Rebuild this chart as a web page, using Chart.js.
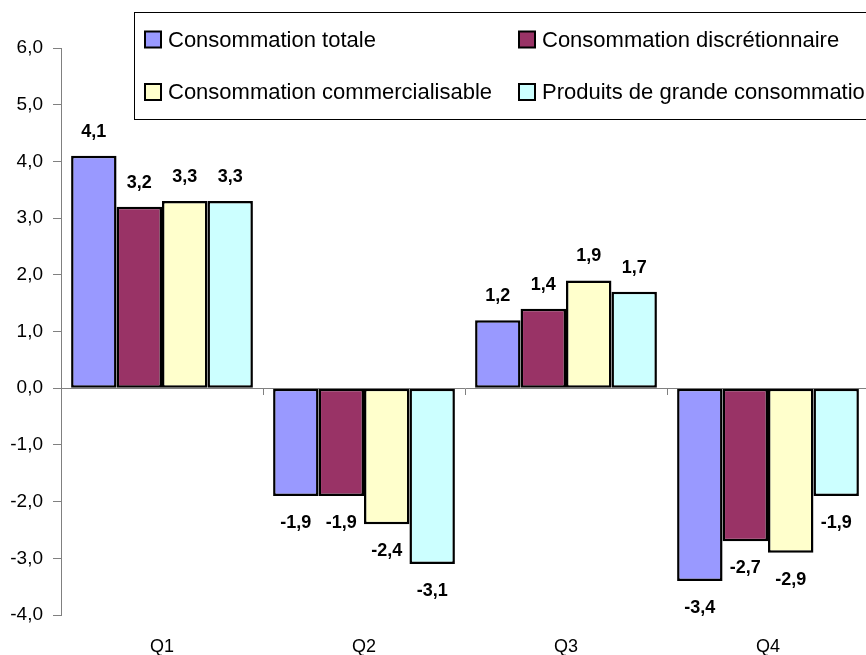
<!DOCTYPE html>
<html>
<head>
<meta charset="utf-8">
<script src="https://cdn.jsdelivr.net/npm/chart.js@4.4.1/dist/chart.umd.min.js"></script>
<style>
  html, body { margin: 0; padding: 0; background: #fff; overflow: hidden; }
  #clip { width: 866px; height: 655px; overflow: hidden; position: relative; }
  #wrap { width: 870px; height: 655px; position: absolute; left: 0; top: 0; }
</style>
</head>
<body>
<div id="clip"><div id="wrap"><canvas id="c"></canvas></div></div>
<script>
// Categories and series
const quarters = ['Q1', 'Q2', 'Q3', 'Q4'];
const seriesNames = [
  'Consommation totale',
  'Consommation discrétionnaire',
  'Consommation commercialisable',
  'Produits de grande consommation'
];
const totale           = [4.1, -1.9, 1.2, -3.4];
const discretionnaire  = [3.2, -1.9, 1.4, -2.7];
const commercialisable = [3.3, -2.4, 1.9, -2.9];
const grandeConso      = [3.3, -3.1, 1.7, -1.9];
const seriesColors = ['#9999FF', '#993366', '#FFFFCC', '#CCFFFF'];
const yMin = -4, yMax = 6, yStep = 1;

const FONT = "'Liberation Sans', Arial, Helvetica, sans-serif";
const frNum = v => v.toFixed(1).replace('.', ',');

// Value labels above positive bars and below negative bars
const valueLabels = {
  id: 'valueLabels',
  afterDatasetsDraw(chart) {
    const ctx = chart.ctx;
    ctx.save();
    ctx.font = 'bold 18px ' + FONT;
    ctx.fillStyle = '#000';
    ctx.textAlign = 'center';
    ctx.textBaseline = 'middle';
    chart.data.datasets.forEach((ds, i) => {
      chart.getDatasetMeta(i).data.forEach((bar, j) => {
        const v = ds.data[j];
        const y = v >= 0 ? bar.y - 24 : bar.y + 27;
        ctx.fillText(frNum(v), bar.x, y);
      });
    });
    ctx.restore();
  }
};

// Two-column framed legend in the upper part of the chart
const boxLegend = {
  id: 'boxLegend',
  afterDraw(chart) {
    const ctx = chart.ctx;
    const left = 134.5, top = 12.5, bottom = 119.5, right = 900;
    ctx.save();
    ctx.fillStyle = '#fff';
    ctx.fillRect(left, top, right - left, bottom - top);
    ctx.strokeStyle = '#000';
    ctx.lineWidth = 1;
    ctx.strokeRect(left, top, right - left, bottom - top);
    const cols = [145, 519];
    const rows = [39.5, 92];
    ctx.font = '22px ' + FONT;
    ctx.textBaseline = 'middle';
    ctx.textAlign = 'left';
    chart.data.datasets.forEach((ds, i) => {
      const x = cols[i % 2], y = rows[Math.floor(i / 2)];
      ctx.fillStyle = ds.backgroundColor;
      ctx.fillRect(x, y - 8, 16, 16);
      ctx.lineWidth = 2;
      ctx.strokeStyle = '#000';
      ctx.strokeRect(x, y - 8, 16, 16);
      ctx.fillStyle = '#000';
      ctx.fillText(ds.label, x + 23, y + 1);
    });
    ctx.restore();
  }
};

const seriesValues = [totale, discretionnaire, commercialisable, grandeConso];

new Chart(document.getElementById('c'), {
  type: 'bar',
  data: {
    labels: quarters,
    datasets: seriesValues.map((vals, i) => ({
      label: seriesNames[i],
      data: vals,
      backgroundColor: seriesColors[i],
      borderColor: '#000',
      borderWidth: 2.5,
      borderSkipped: false,
      categoryPercentage: 0.9,
      barPercentage: 1.0
    }))
  },
  options: {
    responsive: true,
    maintainAspectRatio: false,
    animation: false,
    layout: { padding: { top: 48, right: 1, bottom: 0, left: 0 } },
    plugins: {
      legend: { display: false },
      tooltip: { enabled: false }
    },
    scales: {
      x: {
        position: 'bottom',
        grid: { display: false },
        border: { display: false },
        ticks: { color: '#000', font: { family: FONT, size: 18 }, padding: 13 },
        afterFit(scale) { scale.height = 40; }
      },
      x0: {
        type: 'category',
        labels: quarters,
        position: { y: 0 },
        offset: true,
        grid: { display: true, offset: true, drawOnChartArea: false, drawTicks: true, tickLength: 6, color: '#808080' },
        border: { display: true, color: '#808080', width: 1 },
        ticks: { display: false }
      },
      y: {
        min: yMin,
        max: yMax,
        ticks: {
          stepSize: yStep,
          color: '#000',
          font: { family: FONT, size: 19 },
          padding: 10,
          callback: v => frNum(v)
        },
        grid: { display: true, drawOnChartArea: false, drawTicks: true, tickLength: 8, color: '#808080' },
        border: { display: true, color: '#808080', width: 1 },
        afterFit(scale) { scale.width = 61; }
      }
    }
  },
  plugins: [valueLabels, boxLegend]
});
</script>
</body>
</html>
